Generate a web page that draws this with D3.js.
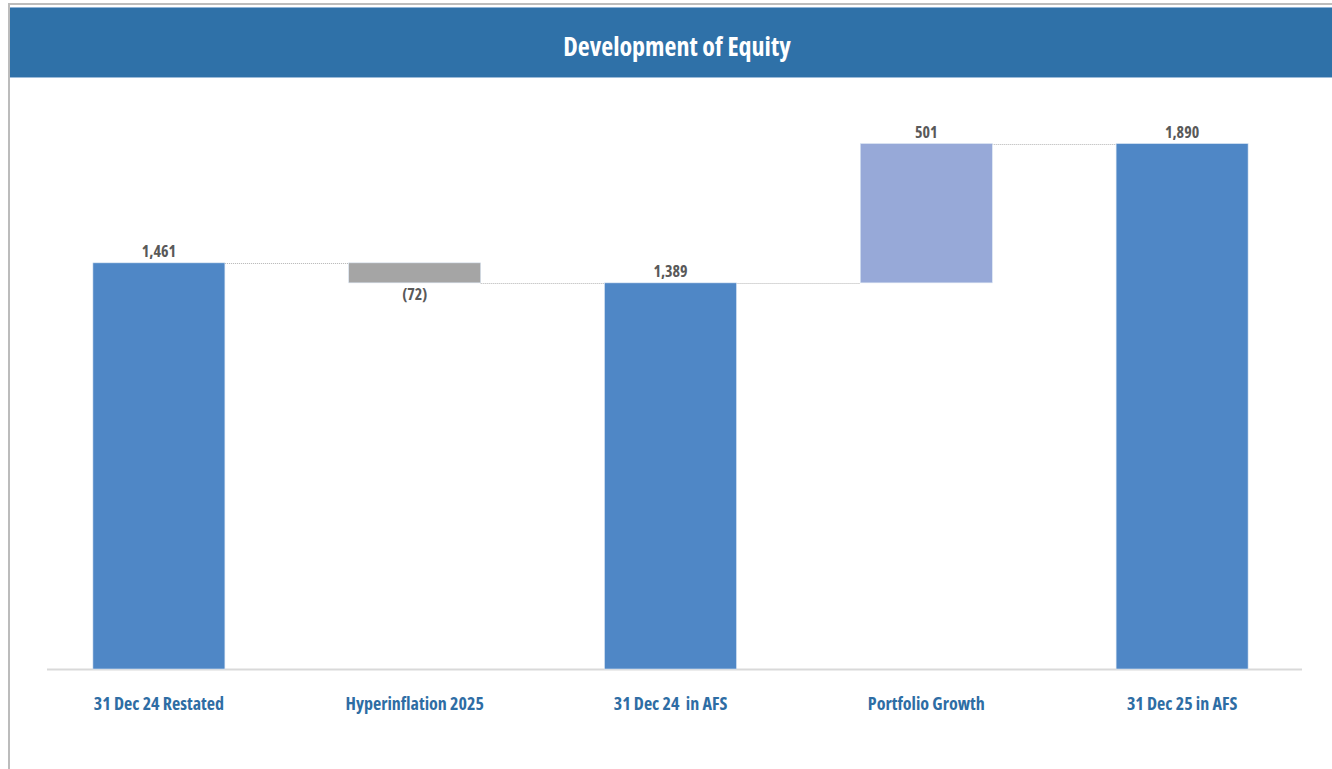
<!DOCTYPE html>
<html>
<head>
<meta charset="utf-8">
<script src="https://cdn.jsdelivr.net/npm/d3@7"></script>
<style>
  body { margin: 0; background: #fff; }
  svg { display: block; }
  .lbl { font-family: "Open Sans", sans-serif; font-stretch: 75%; }
</style>
</head>
<body>
<svg width="1332" height="769"></svg>
<script>
// chart data
let categories = ["31 Dec 24 Restated", "Hyperinflation 2025", "31 Dec 24  in AFS", "Portfolio Growth", "31 Dec 25 in AFS"];
let values = [1461, -72, 1389, 501, 1890];
let kinds = ["total", "delta", "total", "delta", "total"];

var svg = d3.select("svg"),
    width = +svg.attr("width"),
    height = +svg.attr("height");

var colors = {total: "#4F87C6", down: "#A5A5A5", up: "#97A9D8"};

// frame + title band
svg.append("rect")
    .attr("x", 9).attr("y", 4)
    .attr("width", width).attr("height", height)
    .attr("fill", "none")
    .attr("stroke", "#bcbcbc")
    .attr("stroke-width", 2);

svg.append("rect")
    .attr("x", 10).attr("y", 7)
    .attr("width", width - 10).attr("height", 71)
    .attr("fill", "#2F71A8");
svg.append("line").attr("x1", 10).attr("x2", width).attr("y1", 7.5).attr("y2", 7.5)
    .attr("stroke", "#8FB3D6");
svg.append("line").attr("x1", 10).attr("x2", width).attr("y1", 77.5).attr("y2", 77.5)
    .attr("stroke", "#9DBBD9");

svg.append("text")
    .attr("class", "lbl")
    .attr("x", 677).attr("y", 56)
    .attr("text-anchor", "middle")
    .attr("fill", "#fff")
    .style("font-size", "26px")
    .style("font-weight", "bold")
    .text("Development of Equity");

// waterfall steps
let running = 0;
let steps = values.map(function(v, i){
    let s;
    if(kinds[i] == "total"){
        s = {start: 0, end: v};
        running = v;
    } else {
        s = {start: running, end: running + v};
        running += v;
    }
    s.value = v; s.cat = categories[i]; s.kind = kinds[i];
    return s;
});

let x = d3.scaleBand()
    .domain(categories)
    .range([31, 1310])
    .paddingInner(0.484)
    .paddingOuter(0.242);

let y = d3.scaleLinear()
    .domain([0, 2000])
    .range([669, 113]);

// baseline
svg.append("line")
    .attr("x1", 47).attr("x2", 1302)
    .attr("y1", y(0) + 0.5).attr("y2", y(0) + 0.5)
    .attr("stroke", "#d9d9d9")
    .attr("stroke-width", 2);

// connectors
svg.append("g")
    .selectAll("line")
    .data(steps.slice(0, -1))
    .enter().append("line")
    .attr("x1", function(d){ return x(d.cat) + x.bandwidth(); })
    .attr("x2", function(d, i){ return x(categories[i + 1]); })
    .attr("y1", function(d){ return Math.round(y(d.end)) + 0.5; })
    .attr("y2", function(d){ return Math.round(y(d.end)) + 0.5; })
    .attr("stroke", "#b4b4b4")
    .attr("stroke-dasharray", "1,1");

// bars
svg.append("g")
    .selectAll("rect")
    .data(steps)
    .enter().append("rect")
    .attr("x", function(d){ return x(d.cat); })
    .attr("width", x.bandwidth())
    .attr("y", function(d){ return y(Math.max(d.start, d.end)); })
    .attr("height", function(d){ return Math.abs(y(d.start) - y(d.end)); })
    .attr("fill", function(d){
        if(d.kind == "total") return colors.total;
        return d.value < 0 ? colors.down : colors.up;
    })
    .attr("stroke", "#dbe6f3")
    .attr("stroke-width", 0.6);

// value labels
let fmt = d3.format(",");
svg.append("g")
    .selectAll("text")
    .data(steps)
    .enter().append("text")
    .attr("class", "lbl")
    .attr("x", function(d){ return x(d.cat) + x.bandwidth() / 2; })
    .attr("y", function(d){
        return d.value < 0 ? y(d.end) + 17 : y(d.end) - 6;
    })
    .attr("text-anchor", "middle")
    .attr("fill", "#595959")
    .style("font-size", "16px")
    .style("font-weight", "bold")
    .text(function(d){ return d.value < 0 ? "(" + fmt(-d.value) + ")" : fmt(d.value); });

// category axis
let axis = svg.append("g")
    .attr("transform", "translate(0," + y(0) + ")")
    .call(d3.axisBottom(x).tickSize(0).tickPadding(28));
axis.select(".domain").remove();
axis.selectAll("text")
    .attr("class", "lbl")
    .attr("fill", "#2E6DA4")
    .style("font-size", "18px")
    .style("font-weight", "bold")
    .style("white-space", "pre");
</script>
</body>
</html>
